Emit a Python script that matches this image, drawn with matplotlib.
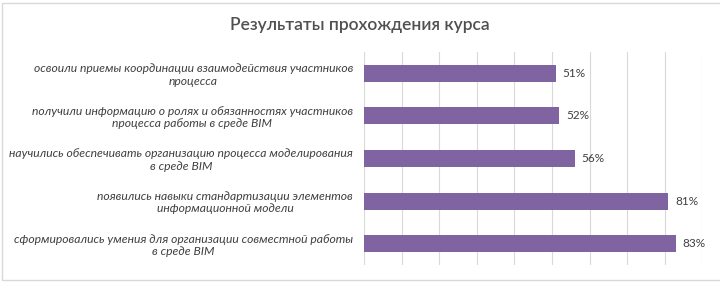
import matplotlib.pyplot as plt
from matplotlib.patches import Rectangle

# data
labels = [
    "освоили приемы координации взаимодействия участников\nпроцесса",
    "получили информацию о ролях и обязанностях участников\nпроцесса работы в среде BIM",
    "научились обеспечивать организацию процесса моделирования\nв среде BIM",
    "появились навыки стандартизации элементов\nинформационной модели",
    "сформировались умения для организации совместной работы\nв среде BIM",
]
values = [0.51, 0.52, 0.56, 0.81, 0.83]
title = "Результаты прохождения курса"

plt.rcParams['font.family'] = ['Lato', 'DejaVu Sans']

fig = plt.figure(figsize=(7.2, 2.83), dpi=100)
ax = fig.add_axes([0.5056, 0.0636, 0.4698, 0.7527])

pos = list(range(len(values)))
ax.barh(pos, values, height=0.4, color="#8064A2", zorder=3)
for p, v in zip(pos, values):
    ax.text(v + 0.018, p, f"{round(v * 100)}%", va="center", ha="left",
            fontsize=8.5, color="#404040")

ax.set_xlim(0, 0.9)
ax.set_ylim(len(values) - 0.5, -0.5)
ax.set_xticks([i / 10 for i in range(10)])
ax.xaxis.grid(True, color="#D9D9D9", linewidth=0.8, zorder=0)
ax.tick_params(axis="x", length=0, labelbottom=False)
ax.set_yticks(pos)
ax.set_yticklabels(labels, fontsize=8.7, style="italic", color="#404040",
                   multialignment="center", linespacing=1.15)
ax.tick_params(axis="y", length=0, pad=8)
for s in ax.spines.values():
    s.set_visible(False)

fig.text(0.5, 0.91, title, ha="center", va="center", fontsize=12.5,
         color="#505050", fontweight="semibold")

# chart border
fig.patches.append(Rectangle((2 / 720, 3 / 283), 1.0, 1 - 6 / 283,
                             transform=fig.transFigure, fill=False,
                             edgecolor="#D9D9D9", linewidth=1))

fig.savefig("out.png", dpi=100)
